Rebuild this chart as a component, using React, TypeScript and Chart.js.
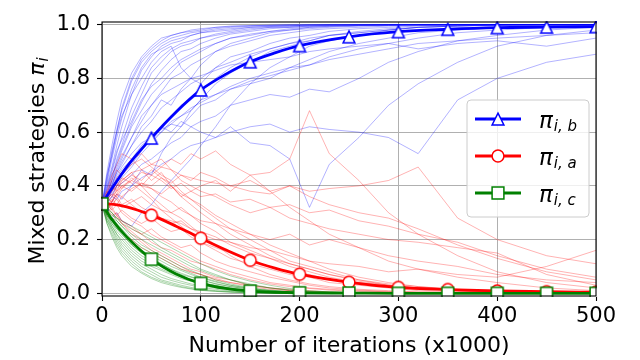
import React, { useEffect, useRef } from 'react';
import { Chart, registerables } from 'chart.js';

Chart.register(...registerables);

// ---------- data ----------
const X_TICKS = [0, 100, 200, 300, 400, 500];
const Y_TICKS = [0, 0.2, 0.4, 0.6, 0.8, 1.0];
const X_TITLE = 'Number of iterations (x1000)';
const Y_TITLE = 'Mixed strategies ';
const LEGEND_SUBS = ['i, b', 'i, a', 'i, c'];

// averaged curves
const MEAN_X = [0, 10, 25, 50, 75, 100, 125, 150, 175, 200, 250, 300, 350, 400, 450, 500];
const MEAN_B = [0.333, 0.39, 0.47, 0.578, 0.675, 0.757, 0.815, 0.862, 0.895, 0.922, 0.955, 0.974, 0.983, 0.989, 0.991, 0.993];
const MEAN_A = [0.333, 0.332, 0.322, 0.291, 0.25, 0.205, 0.162, 0.123, 0.094, 0.071, 0.041, 0.022, 0.014, 0.009, 0.006, 0.004];
const MEAN_C = [0.333, 0.275, 0.21, 0.127, 0.072, 0.037, 0.018, 0.008, 0.004, 0.002, 0.001, 0, 0, 0, 0, 0];
const MARKER_STEP = 50;

// individual runs (thin lines)
const RUN_X = [0, 5, 10, 15, 20, 30, 40, 50, 60, 70, 80, 90, 100, 115, 130, 150, 170, 190, 210, 230, 260, 290, 320, 360, 400, 450, 500];

const B1 = [0.33,0.40,0.47,0.55,0.62,0.74,0.83,0.88,0.92,0.94,0.95,0.96,0.97,0.98,0.985,0.99,0.994,0.996,0.998,0.999,1,1,1,1,1,1,1];
const B2 = [0.33,0.37,0.43,0.50,0.55,0.66,0.74,0.82,0.86,0.90,0.92,0.93,0.95,0.96,0.97,0.98,0.99,0.99,0.995,0.997,0.998,0.999,1,1,1,1,1];
const B3 = [0.33,0.42,0.52,0.60,0.66,0.74,0.80,0.86,0.90,0.92,0.84,0.80,0.85,0.90,0.93,0.95,0.97,0.98,0.985,0.99,0.995,0.997,0.998,1,1,1,1];
const B4 = [0.33,0.36,0.40,0.46,0.50,0.58,0.66,0.70,0.75,0.80,0.82,0.85,0.87,0.90,0.92,0.94,0.96,0.97,0.98,0.985,0.99,0.995,0.997,0.998,0.999,1,1];
const B5 = [0.33,0.34,0.38,0.41,0.45,0.50,0.55,0.58,0.62,0.66,0.70,0.72,0.75,0.80,0.84,0.88,0.91,0.93,0.95,0.96,0.975,0.985,0.99,0.995,0.997,0.999,1];
const B6 = [0.33,0.33,0.36,0.40,0.43,0.47,0.52,0.56,0.60,0.63,0.62,0.66,0.70,0.72,0.76,0.78,0.80,0.84,0.87,0.90,0.93,0.95,0.97,0.98,0.99,0.995,0.998];
const B7 = [0.33,0.35,0.37,0.40,0.41,0.44,0.48,0.50,0.53,0.56,0.58,0.62,0.64,0.66,0.70,0.72,0.74,0.73,0.76,0.75,0.80,0.86,0.90,0.94,0.96,0.98,0.99];
const B8 = [0.33,0.34,0.36,0.35,0.38,0.40,0.43,0.45,0.48,0.50,0.53,0.55,0.56,0.58,0.60,0.62,0.63,0.60,0.62,0.61,0.60,0.58,0.52,0.72,0.80,0.86,0.89];
const B9 = [0.33,0.36,0.40,0.44,0.47,0.52,0.56,0.58,0.62,0.60,0.64,0.62,0.60,0.58,0.62,0.56,0.55,0.50,0.32,0.48,0.58,0.70,0.78,0.86,0.92,0.96,0.98];
const B10 = [0.33,0.30,0.28,0.30,0.27,0.25,0.30,0.33,0.38,0.42,0.46,0.50,0.55,0.62,0.70,0.78,0.84,0.88,0.92,0.94,0.96,0.98,0.99,0.995,1,1,1];
const B11 = [0.33,0.45,0.55,0.64,0.72,0.82,0.88,0.92,0.95,0.96,0.97,0.98,0.985,0.99,0.995,0.997,0.998,1,1,1,1,1,1,1,1,1,1];
const B12 = [0.33,0.38,0.44,0.48,0.53,0.62,0.68,0.74,0.78,0.82,0.86,0.88,0.90,0.93,0.95,0.96,0.975,0.98,0.99,0.993,0.996,0.998,1,1,1,1,1];
const B13 = [0.33,0.36,0.41,0.45,0.49,0.55,0.60,0.64,0.69,0.72,0.75,0.78,0.80,0.84,0.86,0.89,0.91,0.93,0.94,0.96,0.97,0.98,0.99,0.995,0.998,1,1];
const B14 = [0.33,0.35,0.39,0.43,0.46,0.50,0.54,0.57,0.60,0.64,0.66,0.68,0.72,0.74,0.77,0.80,0.82,0.84,0.85,0.87,0.89,0.91,0.93,0.94,0.95,0.96,0.97];
const B15 = [0.33,0.37,0.42,0.47,0.51,0.58,0.64,0.70,0.74,0.76,0.78,0.80,0.81,0.83,0.85,0.86,0.87,0.88,0.90,0.91,0.92,0.93,0.91,0.93,0.94,0.92,0.95];
const B16 = [0.33,0.41,0.50,0.58,0.65,0.76,0.84,0.89,0.91,0.93,0.94,0.96,0.97,0.975,0.98,0.99,0.993,0.996,0.998,0.999,1,1,1,1,1,1,1];
const B17 = [0.33,0.39,0.45,0.52,0.58,0.69,0.77,0.84,0.88,0.91,0.93,0.94,0.95,0.965,0.975,0.985,0.99,0.993,0.996,0.998,0.999,1,1,1,1,1,1];
const B18 = [0.33,0.37,0.40,0.45,0.48,0.55,0.62,0.66,0.72,0.70,0.76,0.80,0.78,0.84,0.88,0.90,0.93,0.95,0.96,0.975,0.985,0.99,0.995,0.998,1,1,1];
const B19 = [0.33,0.43,0.53,0.61,0.68,0.79,0.86,0.90,0.93,0.95,0.96,0.97,0.975,0.985,0.99,0.994,0.997,0.998,0.999,1,1,1,1,1,1,1,1];
const B20 = [0.33,0.36,0.42,0.49,0.54,0.63,0.71,0.78,0.83,0.87,0.90,0.91,0.93,0.95,0.965,0.975,0.985,0.99,0.993,0.996,0.998,0.999,1,1,1,1,1];
const B21 = [0.33,0.31,0.34,0.37,0.35,0.40,0.46,0.44,0.52,0.58,0.62,0.68,0.72,0.78,0.82,0.86,0.90,0.92,0.94,0.96,0.97,0.98,0.99,0.995,1,1,1];
const B22 = [0.33,0.39,0.46,0.53,0.57,0.64,0.72,0.77,0.80,0.84,0.87,0.89,0.91,0.93,0.95,0.965,0.975,0.985,0.99,0.994,0.997,0.999,1,1,1,1,1];
const B23 = [0.33,0.35,0.38,0.42,0.44,0.48,0.53,0.58,0.61,0.63,0.66,0.69,0.71,0.74,0.76,0.79,0.81,0.83,0.85,0.88,0.91,0.93,0.95,0.97,0.98,0.99,0.995];
const B24 = [0.33,0.44,0.51,0.60,0.69,0.80,0.87,0.91,0.94,0.96,0.97,0.975,0.98,0.99,0.993,0.996,0.998,0.999,1,1,1,1,1,1,1,1,1];

const R1 = [0.33,0.36,0.40,0.38,0.42,0.45,0.40,0.36,0.33,0.30,0.28,0.25,0.22,0.18,0.14,0.10,0.07,0.05,0.035,0.025,0.015,0.01,0.005,0.003,0.001,0,0];
const R2 = [0.33,0.34,0.36,0.38,0.40,0.42,0.40,0.39,0.37,0.40,0.36,0.38,0.40,0.42,0.38,0.44,0.45,0.50,0.68,0.52,0.42,0.30,0.22,0.14,0.08,0.04,0.02];
const R3 = [0.33,0.35,0.38,0.40,0.42,0.45,0.46,0.48,0.47,0.46,0.44,0.43,0.42,0.41,0.40,0.38,0.37,0.40,0.38,0.39,0.40,0.42,0.47,0.28,0.20,0.14,0.11];
const R4 = [0.33,0.32,0.30,0.28,0.26,0.23,0.20,0.17,0.15,0.13,0.11,0.09,0.08,0.06,0.05,0.03,0.02,0.015,0.01,0.005,0.003,0.001,0,0,0,0,0];
const R5 = [0.33,0.37,0.42,0.46,0.44,0.48,0.50,0.47,0.44,0.42,0.38,0.35,0.32,0.28,0.24,0.20,0.16,0.12,0.10,0.08,0.05,0.03,0.02,0.01,0.005,0.002,0];
const R6 = [0.33,0.30,0.32,0.29,0.31,0.28,0.26,0.28,0.25,0.23,0.24,0.21,0.19,0.17,0.15,0.12,0.10,0.08,0.07,0.05,0.04,0.03,0.02,0.01,0.005,0.002,0.001];
const R7 = [0.33,0.35,0.34,0.37,0.36,0.39,0.41,0.40,0.43,0.41,0.44,0.42,0.45,0.43,0.40,0.42,0.38,0.40,0.36,0.33,0.30,0.28,0.24,0.18,0.13,0.08,0.05];
const R8 = [0.33,0.33,0.31,0.33,0.30,0.27,0.25,0.22,0.20,0.18,0.16,0.14,0.12,0.10,0.08,0.06,0.04,0.03,0.02,0.015,0.01,0.005,0.002,0.001,0,0,0];
const R9 = [0.33,0.31,0.33,0.35,0.32,0.34,0.36,0.33,0.31,0.30,0.32,0.29,0.27,0.26,0.24,0.22,0.20,0.22,0.18,0.20,0.17,0.14,0.12,0.10,0.07,0.05,0.04];
const R10 = [0.33,0.36,0.39,0.43,0.45,0.50,0.52,0.48,0.50,0.46,0.42,0.40,0.38,0.36,0.33,0.30,0.32,0.28,0.26,0.24,0.22,0.20,0.19,0.17,0.15,0.07,0.03];
const R11 = [0.33,0.34,0.32,0.36,0.33,0.35,0.32,0.30,0.28,0.27,0.26,0.24,0.22,0.20,0.19,0.17,0.16,0.14,0.12,0.11,0.10,0.08,0.09,0.07,0.06,0.10,0.16];
const R12 = [0.33,0.38,0.36,0.40,0.43,0.41,0.38,0.35,0.31,0.28,0.25,0.22,0.19,0.16,0.13,0.11,0.09,0.07,0.06,0.04,0.03,0.02,0.01,0.005,0.002,0,0];
const R13 = [0.33,0.35,0.37,0.36,0.39,0.42,0.45,0.44,0.47,0.50,0.48,0.52,0.50,0.53,0.48,0.44,0.38,0.32,0.27,0.22,0.17,0.12,0.09,0.06,0.04,0.02,0.01];
const R14 = [0.33,0.29,0.27,0.25,0.23,0.20,0.17,0.15,0.13,0.11,0.09,0.08,0.07,0.05,0.04,0.03,0.02,0.01,0.005,0.003,0.001,0,0,0,0,0,0];
const R15 = [0.33,0.31,0.29,0.30,0.27,0.25,0.22,0.24,0.21,0.19,0.17,0.18,0.15,0.12,0.10,0.08,0.06,0.045,0.03,0.02,0.012,0.007,0.004,0.002,0.001,0,0];
const R16 = [0.33,0.38,0.44,0.48,0.52,0.50,0.46,0.42,0.45,0.40,0.36,0.33,0.30,0.26,0.22,0.18,0.14,0.11,0.09,0.07,0.045,0.03,0.02,0.01,0.005,0.002,0];
const R17 = [0.33,0.30,0.27,0.29,0.26,0.22,0.19,0.16,0.14,0.12,0.10,0.08,0.07,0.055,0.04,0.025,0.015,0.01,0.006,0.003,0.001,0,0,0,0,0,0];
const R18 = [0.33,0.36,0.34,0.39,0.41,0.44,0.42,0.46,0.43,0.40,0.37,0.35,0.33,0.29,0.26,0.22,0.18,0.15,0.12,0.09,0.06,0.04,0.025,0.012,0.006,0.002,0.001];
const R19 = [0.33,0.32,0.35,0.33,0.36,0.33,0.30,0.31,0.28,0.26,0.27,0.24,0.23,0.21,0.18,0.15,0.13,0.11,0.09,0.07,0.05,0.035,0.025,0.015,0.008,0.004,0.002];
const R20 = [0.33,0.34,0.31,0.29,0.27,0.24,0.22,0.19,0.17,0.16,0.14,0.12,0.11,0.09,0.07,0.05,0.035,0.025,0.018,0.012,0.007,0.004,0.002,0.001,0,0,0];
const R21 = [0.33,0.36,0.38,0.41,0.39,0.43,0.40,0.44,0.42,0.39,0.41,0.38,0.36,0.37,0.34,0.35,0.32,0.33,0.30,0.31,0.27,0.25,0.22,0.19,0.14,0.09,0.06];
const R22 = [0.33,0.31,0.34,0.37,0.40,0.38,0.41,0.39,0.36,0.34,0.31,0.29,0.26,0.23,0.19,0.16,0.13,0.10,0.08,0.06,0.04,0.025,0.015,0.008,0.004,0.002,0.001];

const G1 = [0.33,0.29,0.26,0.23,0.21,0.17,0.14,0.12,0.10,0.08,0.065,0.05,0.04,0.03,0.02,0.01,0.006,0.003,0.002,0.001,0,0,0,0,0,0,0];
const G2 = [0.33,0.31,0.28,0.26,0.24,0.20,0.17,0.15,0.13,0.11,0.09,0.075,0.06,0.045,0.03,0.018,0.01,0.005,0.003,0.001,0,0,0,0,0,0,0];
const G3 = [0.33,0.27,0.23,0.19,0.16,0.12,0.09,0.07,0.05,0.04,0.03,0.022,0.016,0.01,0.006,0.003,0.001,0,0,0,0,0,0,0,0,0,0];
const G4 = [0.33,0.30,0.28,0.27,0.25,0.22,0.20,0.18,0.16,0.14,0.12,0.10,0.085,0.065,0.05,0.035,0.02,0.012,0.007,0.004,0.002,0.001,0,0,0,0,0];
const G5 = [0.33,0.28,0.24,0.21,0.18,0.14,0.11,0.09,0.07,0.055,0.045,0.035,0.028,0.02,0.013,0.008,0.004,0.002,0.001,0,0,0,0,0,0,0,0];
const G6 = [0.33,0.30,0.26,0.24,0.22,0.18,0.15,0.13,0.11,0.09,0.07,0.06,0.05,0.035,0.025,0.015,0.008,0.004,0.002,0.001,0,0,0,0,0,0,0];
const G7 = [0.33,0.26,0.22,0.18,0.15,0.11,0.08,0.06,0.045,0.035,0.025,0.018,0.012,0.008,0.005,0.002,0.001,0,0,0,0,0,0,0,0,0,0];
const G8 = [0.33,0.31,0.29,0.28,0.26,0.24,0.22,0.20,0.17,0.15,0.13,0.11,0.09,0.07,0.05,0.03,0.02,0.012,0.006,0.003,0.001,0,0,0,0,0,0];
const G9 = [0.33,0.29,0.25,0.22,0.19,0.15,0.12,0.10,0.085,0.07,0.055,0.045,0.035,0.025,0.017,0.01,0.005,0.003,0.001,0,0,0,0,0,0,0,0];
const G10 = [0.33,0.32,0.30,0.27,0.25,0.21,0.18,0.16,0.14,0.12,0.10,0.085,0.07,0.05,0.035,0.02,0.012,0.006,0.003,0.001,0,0,0,0,0,0,0];
const G11 = [0.33,0.28,0.25,0.22,0.20,0.16,0.13,0.11,0.09,0.075,0.06,0.05,0.04,0.028,0.019,0.011,0.006,0.003,0.001,0,0,0,0,0,0,0,0];
const G12 = [0.33,0.30,0.27,0.25,0.23,0.19,0.16,0.14,0.12,0.10,0.085,0.07,0.058,0.042,0.03,0.018,0.01,0.005,0.002,0.001,0,0,0,0,0,0,0];
const G13 = [0.33,0.27,0.24,0.20,0.17,0.13,0.10,0.08,0.06,0.048,0.038,0.03,0.022,0.015,0.009,0.005,0.002,0.001,0,0,0,0,0,0,0,0,0];
const G14 = [0.33,0.31,0.30,0.28,0.27,0.25,0.23,0.21,0.19,0.17,0.15,0.13,0.11,0.085,0.065,0.045,0.03,0.018,0.01,0.005,0.002,0.001,0,0,0,0,0];
const G15 = [0.33,0.29,0.27,0.24,0.22,0.18,0.15,0.13,0.11,0.09,0.075,0.062,0.05,0.036,0.025,0.015,0.008,0.004,0.002,0.001,0,0,0,0,0,0,0];
const G16 = [0.33,0.26,0.21,0.17,0.14,0.10,0.075,0.055,0.04,0.03,0.022,0.016,0.011,0.007,0.004,0.002,0.001,0,0,0,0,0,0,0,0,0,0];

const BLUE_RUNS = [B1, B2, B3, B4, B5, B6, B7, B8, B9, B10, B11, B12, B13, B14, B15, B16, B17, B18, B19, B20, B21, B22, B23, B24];
const RED_RUNS = [R1, R2, R3, R4, R5, R6, R7, R8, R9, R10, R11, R12, R13, R14, R15, R16, R17, R18, R19, R20, R21, R22];
const GREEN_RUNS = [G1, G2, G3, G4, G5, G6, G7, G8, G9, G10, G11, G12, G13, G14, G15, G16];

// ---------- style ----------
const FONT = '"DejaVu Sans", sans-serif';
const TICK_FS = 21;
const TITLE_FS = 22;
const BLUE = '#0000ff';
const RED = '#ff0000';
const GREEN = '#008000';

function makeMarker(shape: string, color: string): HTMLCanvasElement {
  const c = document.createElement('canvas');
  c.width = 18;
  c.height = 18;
  const ctx = c.getContext('2d')!;
  const cx = 9, cy = 9, h = 5.9;
  ctx.beginPath();
  if (shape === 'triangle') {
    ctx.moveTo(cx, cy - h);
    ctx.lineTo(cx + h, cy + h);
    ctx.lineTo(cx - h, cy + h);
    ctx.closePath();
  } else if (shape === 'circle') {
    ctx.arc(cx, cy, h, 0, Math.PI * 2);
  } else {
    ctx.rect(cx - h, cy - h, 2 * h, 2 * h);
  }
  ctx.fillStyle = '#ffffff';
  ctx.fill();
  ctx.lineWidth = 1.5;
  ctx.strokeStyle = color;
  ctx.stroke();
  return c;
}

export default function App() {
  const ref = useRef<HTMLCanvasElement>(null);

  useEffect(() => {
    const canvas = ref.current!;
    const mB = makeMarker('triangle', BLUE);
    const mA = makeMarker('circle', RED);
    const mC = makeMarker('square', GREEN);

    const meanDs = (vals: number[], color: string, marker: HTMLCanvasElement) => ({
      data: MEAN_X.map((x, i) => ({ x, y: vals[i] })),
      borderColor: color,
      borderWidth: 2.8,
      cubicInterpolationMode: 'monotone',
      pointStyle: marker,
      pointRadius: (c: any) => (MEAN_X[c.dataIndex] % MARKER_STEP === 0 ? 6 : 0),
      pointHoverRadius: 0,
      fill: false,
      clip: 1,
    });
    const thinDs = (vals: number[], color: string) => ({
      data: RUN_X.map((x, i) => ({ x, y: vals[i] })),
      borderColor: color,
      borderWidth: 1,
      pointRadius: 0,
      tension: 0,
      fill: false,
      clip: 0,
    });

    const datasets: any[] = [
      meanDs(MEAN_C, GREEN, mC),
      meanDs(MEAN_A, RED, mA),
      meanDs(MEAN_B, BLUE, mB),
      ...GREEN_RUNS.map((r) => thinDs(r, 'rgba(0,128,0,0.32)')),
      ...RED_RUNS.map((r) => thinDs(r, 'rgba(255,0,0,0.3)')),
      ...BLUE_RUNS.map((r) => thinDs(r, 'rgba(0,0,255,0.3)')),
    ];

    const decor = {
      id: 'decor',
      afterDraw(chart: any) {
        const ctx = chart.ctx as CanvasRenderingContext2D;
        const a = chart.chartArea;
        ctx.save();
        // frame
        ctx.strokeStyle = '#000';
        ctx.lineWidth = 1.1;
        ctx.strokeRect(a.left, a.top, a.right - a.left, a.bottom - a.top);

        // x title
        ctx.fillStyle = '#000';
        ctx.font = `${TITLE_FS}px ${FONT}`;
        ctx.textAlign = 'center';
        ctx.textBaseline = 'alphabetic';
        ctx.fillText(X_TITLE, (a.left + a.right) / 2, 352);

        // y title
        ctx.save();
        ctx.translate(44, (a.top + a.bottom) / 2 + 2);
        ctx.rotate(-Math.PI / 2);
        ctx.textAlign = 'left';
        ctx.font = `${TITLE_FS}px ${FONT}`;
        const w1 = ctx.measureText(Y_TITLE).width;
        ctx.font = `italic ${TITLE_FS}px ${FONT}`;
        const w2 = ctx.measureText('π').width;
        ctx.font = `italic 15px ${FONT}`;
        const w3 = ctx.measureText('i').width;
        let x0 = -(w1 + w2 + w3 + 1) / 2;
        ctx.font = `${TITLE_FS}px ${FONT}`;
        ctx.fillText(Y_TITLE, x0, 0);
        x0 += w1;
        ctx.font = `italic ${TITLE_FS}px ${FONT}`;
        ctx.fillText('π', x0, 0);
        x0 += w2 + 1;
        ctx.font = `italic 15px ${FONT}`;
        ctx.fillText('i', x0, 4);
        ctx.restore();

        // legend
        const bx = 467, by = 100, bw = 122, bh = 117, rr = 4;
        ctx.beginPath();
        ctx.moveTo(bx + rr, by);
        ctx.arcTo(bx + bw, by, bx + bw, by + bh, rr);
        ctx.arcTo(bx + bw, by + bh, bx, by + bh, rr);
        ctx.arcTo(bx, by + bh, bx, by, rr);
        ctx.arcTo(bx, by, bx + bw, by, rr);
        ctx.closePath();
        ctx.fillStyle = 'rgba(255,255,255,0.8)';
        ctx.fill();
        ctx.strokeStyle = '#cccccc';
        ctx.lineWidth = 1;
        ctx.stroke();
        const entries = [
          { color: BLUE, m: mB, sub: LEGEND_SUBS[0] },
          { color: RED, m: mA, sub: LEGEND_SUBS[1] },
          { color: GREEN, m: mC, sub: LEGEND_SUBS[2] },
        ];
        entries.forEach((e, i) => {
          const y = 119 + i * 37;
          ctx.beginPath();
          ctx.moveTo(475, y);
          ctx.lineTo(521, y);
          ctx.strokeStyle = e.color;
          ctx.lineWidth = 2.8;
          ctx.stroke();
          ctx.drawImage(e.m, 498 - 9, y - 9);
          ctx.fillStyle = '#000';
          ctx.textAlign = 'left';
          ctx.font = `italic 23px ${FONT}`;
          ctx.fillText('π', 539, y + 9);
          const pw = ctx.measureText('π').width;
          ctx.font = `italic 15px ${FONT}`;
          ctx.fillText(e.sub, 539 + pw + 1, y + 12);
        });
        ctx.restore();
      },
    };

    const tickFont = { family: FONT, size: TICK_FS };
    const chart = new Chart(canvas, {
      type: 'line',
      data: { datasets },
      options: {
        animation: false,
        responsive: false,
        devicePixelRatio: 1,
        events: [],
        layout: { padding: { top: 22, right: 44, left: 0, bottom: 0 } },
        plugins: { legend: { display: false }, tooltip: { enabled: false } },
        scales: {
          x: {
            type: 'linear',
            min: 0,
            max: 500,
            afterBuildTicks: (s: any) => {
              s.ticks = X_TICKS.map((v) => ({ value: v }));
            },
            afterFit: (s: any) => {
              s.height = 64;
            },
            grid: { color: '#b0b0b0', lineWidth: 1, tickColor: '#000', tickLength: 5, tickWidth: 1.1 },
            border: { display: false },
            ticks: {
              font: tickFont,
              color: '#000',
              padding: 3,
              maxRotation: 0,
              autoSkip: false,
              callback: (v: any) => String(v),
            },
          },
          y: {
            type: 'linear',
            min: -0.01,
            max: 1.01,
            afterBuildTicks: (s: any) => {
              s.ticks = Y_TICKS.map((v) => ({ value: v }));
            },
            afterFit: (s: any) => {
              s.width = 102;
            },
            grid: { color: '#b0b0b0', lineWidth: 1, tickColor: '#000', tickLength: 5, tickWidth: 1.1 },
            border: { display: false },
            ticks: {
              font: tickFont,
              color: '#000',
              padding: 7,
              autoSkip: false,
              callback: (v: any) => Number(v).toFixed(1),
            },
          },
        },
      } as any,
      plugins: [decor],
    } as any);
    return () => chart.destroy();
  }, []);

  return (
    <canvas
      ref={ref}
      width={640}
      height={360}
      style={{ position: 'fixed', left: 0, top: 0, width: 640, height: 360, display: 'block' }}
    />
  );
}
